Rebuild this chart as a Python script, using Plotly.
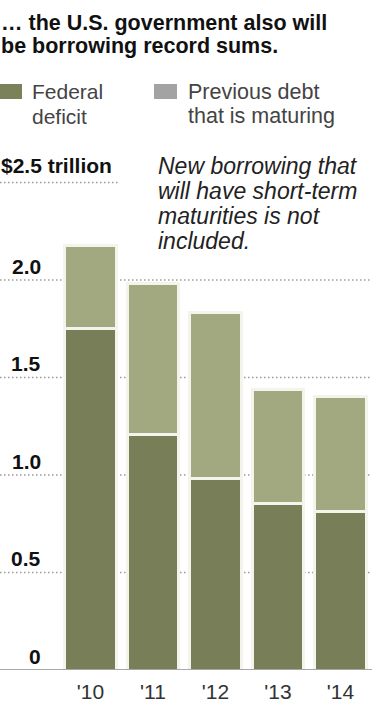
import plotly.graph_objects as go

# ---- data ----
years = ["'10", "'11", "'12", "'13", "'14"]
federal_deficit = [1.75, 1.21, 0.98, 0.855, 0.815]
previous_debt_maturing = [0.425, 0.77, 0.855, 0.585, 0.59]
y_tick_values = [0, 0.5, 1.0, 1.5, 2.0, 2.5]
y_tick_labels = ["0", "0.5", "1.0", "1.5", "2.0", "$2.5 trillion"]

title_lines = ["… the U.S. government also will", "be borrowing record sums."]
legend_deficit = ["Federal", "deficit"]
legend_debt = ["Previous debt", "that is maturing"]
note_lines = ["New borrowing that", "will have short-term", "maturities is not", "included."]

# ---- layout constants ----
W, H = 372, 704
BASE = 670          # pixel row of y=0
PX_PER_UNIT = 195.0
FONT = "Liberation Sans, Arial, Helvetica, sans-serif"
DARK = "#787e58"
LIGHT = "#a2a981"
SEP = "#f4f4ec"


def py(p):
    """pixel row -> paper y"""
    return (BASE - p) / BASE


def px(p):
    return p / W


fig = go.Figure()
fig.add_bar(x=years, y=federal_deficit, name="Federal deficit",
            marker=dict(color=DARK, line=dict(color=SEP, width=3)),
            width=0.83, showlegend=False, hoverinfo="skip")
fig.add_bar(x=years, y=previous_debt_maturing, name="Previous debt that is maturing",
            marker=dict(color=LIGHT, line=dict(color=SEP, width=3)),
            width=0.83, showlegend=False, hoverinfo="skip")

shapes = []
annotations = []

# gridlines (dotted) behind bars
for v in y_tick_values[1:]:
    x1 = px(120) if v == 2.5 else 1
    shapes.append(dict(type="line", xref="paper", yref="y", x0=0, x1=x1, y0=v, y1=v,
                       line=dict(color="#9a9a9a", width=1.5, dash="1.5px,2.5px"),
                       layer="below"))
# baseline
shapes.append(dict(type="line", xref="paper", yref="y", x0=0, x1=1, y0=0, y1=0,
                   line=dict(color="#8c8c8c", width=1.5), layer="above"))

# y labels
for v, lab in zip(y_tick_values, y_tick_labels):
    if v == 2.5:
        annotations.append(dict(xref="paper", yref="y", x=px(-1), y=v, xanchor="left",
                                yanchor="middle", yshift=17, text=lab, showarrow=False,
                                font=dict(family=FONT, size=21, color="#111111", weight="bold")))
    else:
        annotations.append(dict(xref="paper", yref="y", x=px(43), y=v, xanchor="right",
                                yanchor="middle", yshift=14, text=lab, showarrow=False,
                                font=dict(family=FONT, size=21, color="#111111", weight="bold")))

# title
for i, t in enumerate(title_lines):
    annotations.append(dict(xref="paper", yref="paper", x=px(-1), y=py(23 + 23 * i),
                            xanchor="left", yanchor="middle", text=t, showarrow=False,
                            font=dict(family=FONT, size=21.5, color="#111111", weight="bold")))

# legend swatches
shapes.append(dict(type="rect", xref="paper", yref="paper", x0=px(0), x1=px(22),
                   y0=py(99), y1=py(84), fillcolor="#7b8259", line=dict(width=0)))
shapes.append(dict(type="rect", xref="paper", yref="paper", x0=px(154), x1=px(177),
                   y0=py(99), y1=py(84), fillcolor="#a3a3a3", line=dict(width=0)))
for i, t in enumerate(legend_deficit):
    annotations.append(dict(xref="paper", yref="paper", x=px(30), y=py(92 + 24 * i),
                            xanchor="left", yanchor="middle", text=t, showarrow=False,
                            font=dict(family=FONT, size=21, color="#444444")))
for i, t in enumerate(legend_debt):
    annotations.append(dict(xref="paper", yref="paper", x=px(186), y=py(92 + 24 * i),
                            xanchor="left", yanchor="middle", text=t, showarrow=False,
                            font=dict(family=FONT, size=21.5, color="#444444")))

# note
for i, t in enumerate(note_lines):
    annotations.append(dict(xref="paper", yref="paper", x=px(156), y=py(166 + 25 * i),
                            xanchor="left", yanchor="middle", text=t, showarrow=False,
                            font=dict(family=FONT, size=23, color="#222222", style="italic")))

fig.update_layout(
    width=W, height=H,
    barmode="stack",
    margin=dict(l=0, r=0, t=0, b=H - BASE),
    paper_bgcolor="white", plot_bgcolor="white",
    shapes=shapes, annotations=annotations,
    xaxis=dict(type="category", range=[-1.448, 4.504], showgrid=False, zeroline=False,
               showline=False, ticks="outside", ticklen=3, tickcolor="rgba(0,0,0,0)",
               tickfont=dict(family=FONT, size=21, color="#333333"), fixedrange=True),
    yaxis=dict(range=[0, BASE / PX_PER_UNIT], showgrid=False, zeroline=False,
               showticklabels=False, showline=False, fixedrange=True),
    showlegend=False,
)

fig.write_html("out.html", config={"displayModeBar": False},
               post_script="document.body.style.margin='0';document.body.style.overflow='hidden';")
